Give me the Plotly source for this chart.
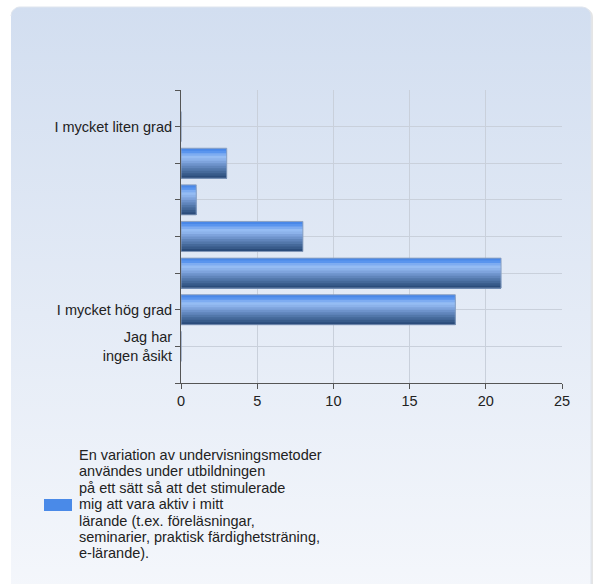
import numpy as np
import plotly.graph_objects as go

# ---- data ----
categories = ["I mycket liten grad", "", "", "", "", "I mycket hög grad", "Jag har<br>ingen åsikt"]
values = [0, 3, 1, 8, 21, 18, 0]
x_ticks = [0, 5, 10, 15, 20, 25]
legend_lines = ["En variation av undervisningsmetoder",
                "användes under utbildningen",
                "på ett sätt så att det stimulerade",
                "mig att vara aktiv i mitt",
                "lärande (t.ex. föreläsningar,",
                "seminarier, praktisk färdighetsträning,",
                "e-lärande)."]

W, H = 595, 584
FONT = "Liberation Sans, Arial, sans-serif"
FS = 14.5

positions = list(range(1, len(categories) + 1))

fig = go.Figure()

# ---- background panel (decorative, pixel coords on xaxis/yaxis) ----
x0, x1, y0, y1, r = 11, 591, 7, 620, 9
t = np.linspace(0, np.pi / 2, 8)
px = list(x0 + r - r * np.cos(t)) + list(x1 - r + r * np.sin(t)) + [x1, x0]
py = list(y0 + r - r * np.sin(t)) + list(y0 + r - r * np.cos(t)) + [y1, y1]
fig.add_trace(go.Scatter(x=[p + 2 for p in px], y=[q + 1 for q in py], fill="toself",
                         fillcolor="rgba(0,0,0,0.10)", line=dict(width=0),
                         mode="lines", hoverinfo="skip", showlegend=False,
                         xaxis="x", yaxis="y"))
fig.add_trace(go.Scatter(x=px, y=py, fill="toself",
                         fillgradient=dict(type="vertical",
                                           colorscale=[[0, "#f6f8fc"], [0.5, "#e4ebf6"], [1, "#d2def0"]]),
                         line=dict(width=1, color="#dfe5ee"),
                         mode="lines", hoverinfo="skip", showlegend=False,
                         xaxis="x", yaxis="y"))

# ---- bars with vertical gradient (overlaid, progressively narrower strips) ----
strip_colors = ["#4a88e8", "#5a95ee", "#7eacf1", "#95bcf3", "#8cb2ea", "#7ea3dc",
                "#6e93cb", "#6085bb", "#5277aa", "#45699a", "#385b8a", "#2b4c7b"]
BW = 0.82
n = len(strip_colors)
sw = BW / n
for i, c in enumerate(strip_colors):
    fig.add_trace(go.Bar(
        x=values, y=positions, orientation="h",
        width=BW - i * sw, offset=-BW / 2 + i * sw,
        marker=dict(color=c, line=dict(width=0)),
        showlegend=False, hoverinfo="skip",
        xaxis="x2", yaxis="y2"))
fig.add_trace(go.Bar(
    x=values, y=positions, orientation="h",
    width=BW, offset=-BW / 2,
    marker=dict(color="rgba(0,0,0,0)", line=dict(width=1, color="rgba(140,160,190,0.9)")),
    showlegend=False, hoverinfo="x",
    xaxis="x2", yaxis="y2"))

ytickvals = [0] + positions + [len(categories) + 1]
yticktext = [""] + categories + [""]

# ---- legend (swatch + text lines) ----
LEG_TOP = 455
LEG_STEP = 16.4
annotations = []
for i, line in enumerate(legend_lines):
    annotations.append(dict(x=77, y=LEG_TOP + i * LEG_STEP, xref="x", yref="y",
                            text=line, showarrow=False, xanchor="left", yanchor="middle",
                            font=dict(family=FONT, size=FS, color="#222222")))
shapes = [dict(type="rect", xref="x", yref="y", x0=44, x1=72, y0=499, y1=511,
               fillcolor="#4a8ae8", line=dict(width=0))]

fig.update_layout(
    width=W, height=H, autosize=False,
    margin=dict(l=0, r=0, t=0, b=0, pad=0, autoexpand=False),
    paper_bgcolor="white",
    plot_bgcolor="rgba(0,0,0,0)",
    barmode="overlay",
    font=dict(family=FONT, size=FS, color="#222222"),
    xaxis=dict(domain=[0, 1], range=[0, W], visible=False, fixedrange=True),
    yaxis=dict(domain=[0, 1], range=[H, 0], visible=False, fixedrange=True),
    xaxis2=dict(domain=[181 / W, 562 / W], range=[0, 25], anchor="y2",
                tickvals=x_ticks, ticks="outside", ticklen=5, tickcolor="#555555",
                showline=True, linecolor="#555555", linewidth=1,
                showgrid=True, gridcolor="#c9d0db", gridwidth=1, zeroline=False,
                automargin=False,
                tickfont=dict(size=FS, color="#222222")),
    yaxis2=dict(domain=[1 - 383 / H, 1 - 90 / H], range=[len(categories) + 1, 0], anchor="x2",
                tickmode="array", tickvals=ytickvals, ticktext=yticktext,
                ticks="outside", ticklen=5, tickcolor="#555555",
                showline=True, linecolor="#555555", linewidth=1,
                showgrid=True, gridcolor="#c9d0db", gridwidth=1, zeroline=False,
                automargin=False,
                tickfont=dict(size=FS, color="#222222")),
    annotations=annotations,
    shapes=shapes,
    showlegend=False,
)

fig.write_html("out.html",
               config={"displayModeBar": False, "responsive": False},
               post_script="document.documentElement.style.margin='0';document.body.style.margin='0';"
                           "document.body.style.padding='0';document.body.style.overflow='hidden';")
